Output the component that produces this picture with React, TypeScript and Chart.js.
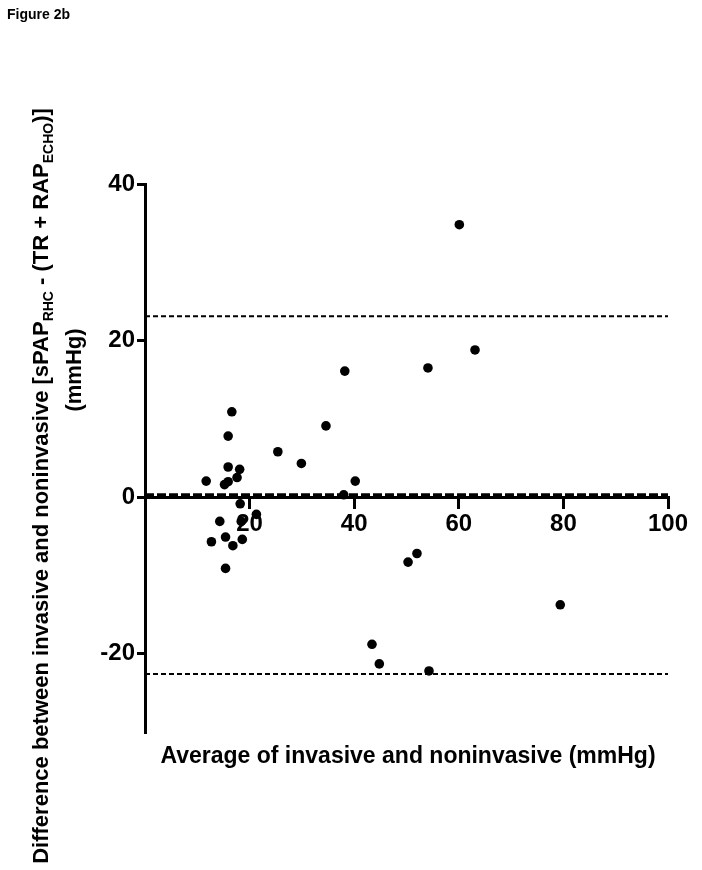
import React, { useEffect, useRef } from "react";
import { Chart, registerables } from "chart.js";

Chart.register(...registerables);

// Data (Bland-Altman): x = average, y = difference
const avgValues = [
  16.6, 15.9, 25.4, 15.9, 18.1, 11.7, 17.6, 15.9, 15.2, 18.2, 14.3, 18.4, 21.3,
  12.7, 15.4, 16.8, 18.6, 15.4, 29.9, 34.6, 38.2, 40.2, 38.0, 54.1, 63.1, 60.1,
  43.4, 44.8, 54.3, 50.3, 52.0, 79.4,
];
const diffValues = [
  10.9, 7.8, 5.8, 3.85, 3.55, 2.05, 2.5, 1.97, 1.6, -0.85, -3.1, -3.1, -2.2,
  -5.7, -5.1, -6.2, -5.4, -9.1, 4.3, 9.1, 16.1, 2.05, 0.3, 16.5, 18.8, 34.8,
  -18.8, -21.3, -22.2, -8.3, -7.2, -13.75,
];
const upperLimit = 23.1;
const lowerLimit = -22.6;
const biasValue = 0.3;
const xMin = 0;
const xMax = 100;
const yMin = -30;
const yMax = 40;
const xTickValues = [20, 40, 60, 80, 100];
const yTickValues = [-20, 0, 20, 40];

const figureTitle = "Figure 2b";
const xTitle = "Average of invasive and noninvasive (mmHg)";
const yTitleSegments: { text: string; sub: boolean }[] = [
  { text: "Difference between invasive and noninvasive [sPAP", sub: false },
  { text: "RHC", sub: true },
  { text: " - (TR + RAP", sub: false },
  { text: "ECHO", sub: true },
  { text: ")]", sub: false },
];
const yTitleLine2 = "(mmHg)";

const FONT = "Arial, 'Liberation Sans', Helvetica, sans-serif";

const textPlugin = {
  id: "customText",
  afterDraw(chart: any) {
    const ctx = chart.ctx as CanvasRenderingContext2D;
    ctx.save();
    ctx.fillStyle = "#000";
    // figure title
    ctx.font = `bold 14px ${FONT}`;
    ctx.textAlign = "left";
    ctx.textBaseline = "middle";
    ctx.fillText(figureTitle, 7, 15);

    // x title
    ctx.font = `bold 23px ${FONT}`;
    ctx.textAlign = "center";
    ctx.textBaseline = "middle";
    ctx.fillText(xTitle, 408, 757);

    // y title line 1 with subscripts
    const mainSize = 22;
    const subSize = 14;
    ctx.save();
    ctx.translate(42, 486);
    ctx.rotate(-Math.PI / 2);
    ctx.textAlign = "left";
    ctx.textBaseline = "middle";
    let total = 0;
    const widths = yTitleSegments.map((s) => {
      ctx.font = `bold ${s.sub ? subSize : mainSize}px ${FONT}`;
      const w = ctx.measureText(s.text).width;
      total += w;
      return w;
    });
    let x = -total / 2;
    yTitleSegments.forEach((s, i) => {
      ctx.font = `bold ${s.sub ? subSize : mainSize}px ${FONT}`;
      ctx.fillText(s.text, x, s.sub ? 7 : 0);
      x += widths[i];
    });
    ctx.restore();

    // y title line 2
    ctx.save();
    ctx.translate(75, 370);
    ctx.rotate(-Math.PI / 2);
    ctx.font = `bold ${mainSize}px ${FONT}`;
    ctx.textAlign = "center";
    ctx.textBaseline = "middle";
    ctx.fillText(yTitleLine2, 0, 0);
    ctx.restore();

    ctx.restore();
  },
};

export default function App() {
  const canvasRef = useRef<HTMLCanvasElement | null>(null);

  useEffect(() => {
    document.body.style.margin = "0";
    document.body.style.background = "#fff";
    const canvas = canvasRef.current;
    if (!canvas) return;

    const points = avgValues.map((x, i) => ({ x, y: diffValues[i] }));
    const hLine = (v: number) => [
      { x: xMin, y: v },
      { x: xMax, y: v },
    ];

    const chart = new Chart(canvas, {
      type: "scatter",
      data: {
        datasets: [
          {
            label: "points",
            data: points,
            backgroundColor: "#000",
            borderColor: "#000",
            borderWidth: 0,
            pointRadius: 4.8,
            order: 0,
          },
          {
            label: "upper",
            data: hLine(upperLimit),
            showLine: true,
            borderColor: "#000",
            borderWidth: 2,
            borderDash: [5, 3],
            pointRadius: 0,
            order: 1,
          },
          {
            label: "lower",
            data: hLine(lowerLimit),
            showLine: true,
            borderColor: "#000",
            borderWidth: 2,
            borderDash: [5, 3],
            pointRadius: 0,
            order: 1,
          },
          {
            label: "bias",
            data: hLine(biasValue),
            showLine: true,
            borderColor: "#000",
            borderWidth: 3,
            borderDash: [9, 3],
            pointRadius: 0,
            order: 1,
          },
        ],
      },
      options: {
        responsive: false,
        animation: false,
        devicePixelRatio: 1,
        layout: { padding: { left: 0, top: 184, right: 34, bottom: 138 } },
        plugins: {
          legend: { display: false },
          tooltip: { enabled: false },
          title: { display: false },
        },
        scales: {
          x: {
            type: "linear",
            min: xMin,
            max: xMax,
            position: { y: 0 } as any,
            afterBuildTicks: (scale: any) => {
              scale.ticks = xTickValues.map((v) => ({ value: v }));
            },
            grid: {
              display: true,
              drawOnChartArea: false,
              drawTicks: true,
              tickLength: 10,
              color: "#000",
              lineWidth: 3,
            },
            border: { display: true, color: "#000", width: 3 },
            ticks: {
              color: "#000",
              padding: 3,
              font: { family: FONT, size: 24, weight: "bold" },
            },
          },
          y: {
            type: "linear",
            min: yMin,
            max: yMax,
            position: "left",
            afterBuildTicks: (scale: any) => {
              scale.ticks = yTickValues.map((v) => ({ value: v }));
            },
            afterFit: (scale: any) => {
              scale.width = 145;
            },
            grid: {
              display: true,
              drawOnChartArea: false,
              drawTicks: true,
              tickLength: 8,
              color: "#000",
              lineWidth: 3,
            },
            border: { display: true, color: "#000", width: 3 },
            ticks: {
              color: "#000",
              padding: 2,
              font: { family: FONT, size: 24, weight: "bold" },
            },
          },
        },
      },
      plugins: [textPlugin],
    });

    return () => {
      chart.destroy();
    };
  }, []);

  return (
    <div style={{ width: 702, height: 870, background: "#fff" }}>
      <canvas
        ref={canvasRef}
        width={702}
        height={870}
        style={{ width: 702, height: 870, display: "block" }}
      />
    </div>
  );
}
